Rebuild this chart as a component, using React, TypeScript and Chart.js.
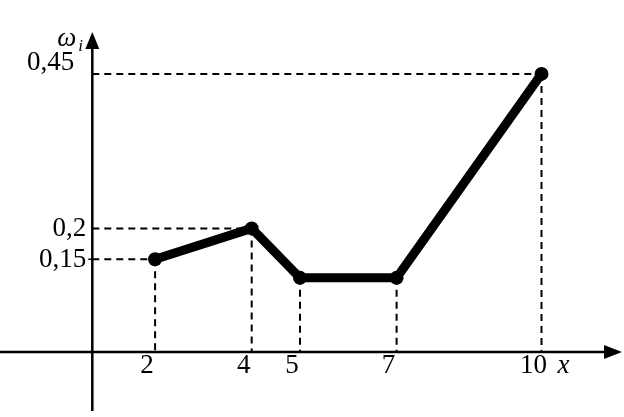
import React, { useEffect, useRef } from "react";
import { Chart, registerables } from "chart.js";

Chart.register(...registerables);

const xValues = [2, 4, 5, 7, 10];
const yValues = [0.15, 0.2, 0.12, 0.12, 0.45];
const xTickLabels = ["2", "4", "5", "7", "10"];
const yTickValues = [0.15, 0.2, 0.45];
const yTickLabels = ["0,15", "0,2", "0,45"];

const FONT = "27px 'Liberation Serif', 'DejaVu Serif', serif";
const IFONT = "italic 27px 'Liberation Serif', 'DejaVu Serif', serif";

const axesPlugin = {
  id: "mathAxes",
  beforeDatasetsDraw(chart: any) {
    const ctx = chart.ctx;
    const xs = chart.scales.x;
    const ys = chart.scales.y;
    const ax = xs.getPixelForValue(0.7);
    const ay = ys.getPixelForValue(0);
    const W = chart.width;
    const H = chart.height;
    ctx.save();
    // dashed guides
    ctx.strokeStyle = "#000";
    ctx.lineWidth = 2;
    ctx.setLineDash([7, 5]);
    xValues.forEach((xv, i) => {
      const px = xs.getPixelForValue(xv);
      const py = ys.getPixelForValue(yValues[i]);
      ctx.beginPath();
      ctx.moveTo(px, py);
      ctx.lineTo(px, ay);
      ctx.stroke();
    });
    yTickValues.forEach((yv) => {
      const idx = yValues.indexOf(yv);
      const py = ys.getPixelForValue(yv);
      const px = xs.getPixelForValue(xValues[idx]);
      ctx.beginPath();
      ctx.moveTo(ax, py);
      ctx.lineTo(px, py);
      ctx.stroke();
    });
    ctx.setLineDash([]);
    // axes
    ctx.lineWidth = 2.5;
    ctx.beginPath();
    ctx.moveTo(0, ay);
    ctx.lineTo(W - 16, ay);
    ctx.moveTo(ax, H - 6);
    ctx.lineTo(ax, 46);
    ctx.stroke();
    ctx.fillStyle = "#000";
    ctx.beginPath();
    ctx.moveTo(W - 2, ay);
    ctx.lineTo(W - 20, ay - 7);
    ctx.lineTo(W - 20, ay + 7);
    ctx.closePath();
    ctx.fill();
    ctx.beginPath();
    ctx.moveTo(ax, 32);
    ctx.lineTo(ax - 7, 49);
    ctx.lineTo(ax + 7, 49);
    ctx.closePath();
    ctx.fill();
    // x tick labels
    ctx.font = FONT;
    ctx.textAlign = "center";
    ctx.textBaseline = "alphabetic";
    xValues.forEach((xv, i) => {
      ctx.fillText(xTickLabels[i], xs.getPixelForValue(xv) - 8, ay + 21);
    });
    ctx.font = IFONT;
    ctx.fillText("x", xs.getPixelForValue(xValues[xValues.length - 1]) + 22, ay + 21);
    // y tick labels
    ctx.font = FONT;
    ctx.textAlign = "right";
    yTickValues.forEach((yv, i) => {
      const lift = i === yTickValues.length - 1 ? 12 : 0;
      ctx.fillText(yTickLabels[i], ax - 6 - lift, ys.getPixelForValue(yv) + 8 - lift);
    });
    // tiny tick at 0.15
    ctx.lineWidth = 1.5;
    ctx.beginPath();
    ctx.moveTo(ax - 4, ys.getPixelForValue(0.15));
    ctx.lineTo(ax, ys.getPixelForValue(0.15));
    ctx.stroke();
    // y axis title
    ctx.textAlign = "left";
    ctx.font = IFONT;
    ctx.fillText("\u03C9", ax - 35, 46);
    ctx.font = "italic 17px 'Liberation Serif', 'DejaVu Serif', serif";
    ctx.fillText("i", ax - 14, 51);
    ctx.restore();
  },
};

export default function App() {
  const ref = useRef<HTMLCanvasElement>(null);
  useEffect(() => {
    if (!ref.current) return;
    const chart = new Chart(ref.current, {
      type: "line",
      data: {
        datasets: [
          {
            data: xValues.map((x, i) => ({ x, y: yValues[i] })),
            borderColor: "#000",
            backgroundColor: "#000",
            borderWidth: 9,
            borderJoinStyle: "round",
            pointRadius: 7,
            pointBackgroundColor: "#000",
            pointBorderWidth: 0,
            tension: 0,
          } as any,
        ],
      },
      options: {
        responsive: false,
        animation: false,
        layout: { padding: 0, autoPadding: false },
        plugins: { legend: { display: false }, tooltip: { enabled: false } },
        scales: {
          x: { type: "linear", display: false, min: -1.211, max: 11.708 },
          y: { type: "linear", display: false, min: -0.1052, max: 0.5696 },
        },
      },
      plugins: [axesPlugin],
    });
    return () => chart.destroy();
  }, []);
  return (
    <div style={{ position: "fixed", left: 0, top: 0, width: 624, height: 417, background: "#fff" }}>
      <canvas ref={ref} width={624} height={417} />
    </div>
  );
}
